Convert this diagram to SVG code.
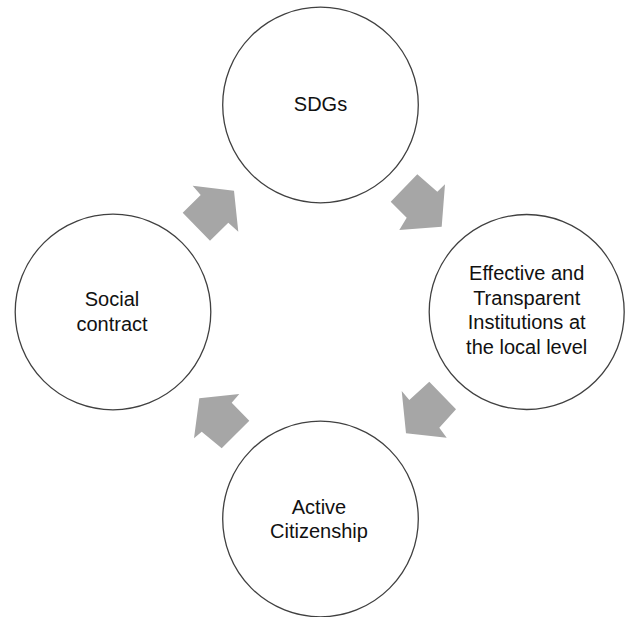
<svg xmlns="http://www.w3.org/2000/svg" width="628" height="617" viewBox="0 0 628 617">
<style>
.node circle{fill:#fff;stroke:#404040;stroke-width:1.3}
.node text{font-family:"Liberation Sans",Arial,sans-serif;font-size:20px;fill:#111;text-anchor:middle}
.arrow{fill:#a6a6a6;stroke:none}
</style>
<rect width="628" height="617" fill="#fff"/>
<g id="connectors">
<polygon class="arrow" points="192.7,185.7 234,190.7 238.3,231.7 228.3,222.7 210,240.7 182.7,212.7 200.7,195"/>
<polygon class="arrow" points="417.3,174.3 437.3,191.7 445,184.3 441.7,226.7 399.3,230 406.7,217.7 390.7,201.7"/>
<polygon class="arrow" points="401.7,391 409.3,400 429.3,381.7 456,409.3 439.3,427.7 446.7,437.7 406,433.3"/>
<polygon class="arrow" points="199.3,398.3 239.3,394 231.7,402.7 249.3,420.7 221.7,448.3 201.7,431.7 194,438.3"/>
</g>
<g id="sdgs" class="node">
<circle cx="320.5" cy="105" r="97.8"/>
<text x="320.5" y="111">SDGs</text>
</g>
<g id="effective" class="node">
<circle cx="526.7" cy="312" r="97.5"/>
<text x="526.7" y="280">Effective and</text>
<text x="526.7" y="304.5">Transparent</text>
<text x="526.7" y="329.3">Institutions at</text>
<text x="526.7" y="354">the local level</text>
</g>
<g id="active" class="node">
<circle cx="320.5" cy="519" r="97.8"/>
<text x="319" y="514">Active</text>
<text x="319" y="538.3">Citizenship</text>
</g>
<g id="social" class="node">
<circle cx="113" cy="312" r="97.8"/>
<text x="112" y="306">Social</text>
<text x="112" y="331">contract</text>
</g>
</svg>
